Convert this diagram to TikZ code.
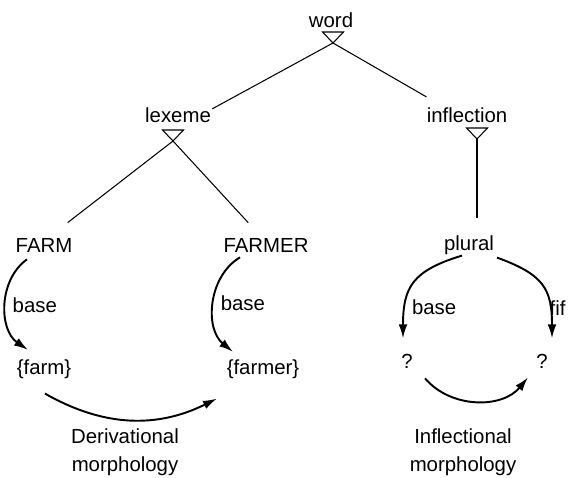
\documentclass[tikz,border=0pt]{standalone}
\usepackage{fontspec}
\setmainfont{Liberation Sans}
\usetikzlibrary{arrows.meta}

\begin{document}
\begin{tikzpicture}[x=0.02cm, y=-0.02cm, >={Latex[length=8pt,width=5pt]}]
  \tikzstyle{wordLabel} = [font={\fontsize{11.6}{15.9}\selectfont}, inner sep=0pt, anchor=base];
  \tikzstyle{caption} = [wordLabel, anchor=north, align=center];
  \tikzstyle{treeEdge} = [black, line width=0.6pt];
  \tikzstyle{marker} = [treeEdge, line join=miter];
  \tikzstyle{morphEdge} = [black, line width=1.1pt, ->];
  \tikzstyle{edgeLabel} = [wordLabel, anchor=west, xshift=0.12cm];

  \useasboundingbox[fill=white] (0,0) rectangle (568,477);

  % tree
  \node[wordLabel] (word)       at (331,27)  {word};
  \node[wordLabel] (lexeme)     at (178,122) {lexeme};
  \node[wordLabel] (inflection) at (467,122) {inflection};
  \node[wordLabel] (farmLex)    at (44,252)  {FARM};
  \node[wordLabel] (farmerLex)  at (266,252) {FARMER};
  \node[wordLabel] (plural)     at (469,250) {plural};

  \coordinate (wordTip)   at (333,43);
  \coordinate (lexemeTip) at (173,141);
  \coordinate (inflTip)   at (477,139);

  \draw[marker] (wordTip) -- ++(-10.5,-11) -- ++(21,0) -- cycle;
  \draw[marker] (lexemeTip) -- ++(-10.5,-11) -- ++(21,0) -- cycle;
  \draw[marker] (inflTip) -- ++(-10.5,-11) -- ++(21,0) -- cycle;

  \draw[treeEdge] (wordTip) -- ([shift={(1,2)}]lexeme.north east);
  \draw[treeEdge] (wordTip) -- ([shift={(0,-10)}]inflection.north west);
  \draw[treeEdge] (lexemeTip) -- ([shift={(-5,-15)}]farmLex.north east);
  \draw[treeEdge] (lexemeTip) -- ([shift={(25,-15)}]farmerLex.north west);
  \draw[treeEdge] (inflTip) -- ([shift={(8,-17)}]plural.north);

  % forms
  \node[wordLabel] (farmForm)   at (44,374)  {\{farm\}};
  \node[wordLabel] (farmerForm) at (263,374) {\{farmer\}};
  \node[wordLabel] (qBase)      at (407,368) {?};
  \node[wordLabel] (qFif)       at (542,368) {?};

  \draw[morphEdge] ([shift={(-17,7)}]farmLex.south) to[bend right=55]
        node[edgeLabel] {base} ([shift={(-16,-9)}]farmForm.north);
  \draw[morphEdge] ([shift={(-26,5)}]farmerLex.south) to[bend right=55]
        node[edgeLabel] {base} ([shift={(-30,-7)}]farmerForm.north);
  \draw[morphEdge] ([shift={(1,15)}]farmForm.south) to[bend right=28] ([shift={(-46,20)}]farmerForm.south);

  \draw[morphEdge] ([shift={(-7,1)}]plural.south) to[out=197, in=90, looseness=1.3]
        node[edgeLabel, pos=0.76] {base} ([shift={(-4,-15)}]qBase.north);
  \draw[morphEdge] ([shift={(28,3)}]plural.south) to[out=-20, in=90, looseness=1.3]
        node[edgeLabel, pos=0.76, xshift=-0.15cm] {fif} ([shift={(10,-15)}]qFif.north);
  \draw[morphEdge] ([shift={(18,10)}]qBase.south) to[bend right=50] ([shift={(-14,9)}]qFif.south);

  \node[caption] (deriv) at (125,428) {Derivational\\morphology};
  \node[caption] (infl)  at (463,428) {Inflectional\\morphology};
\end{tikzpicture}
\end{document}
